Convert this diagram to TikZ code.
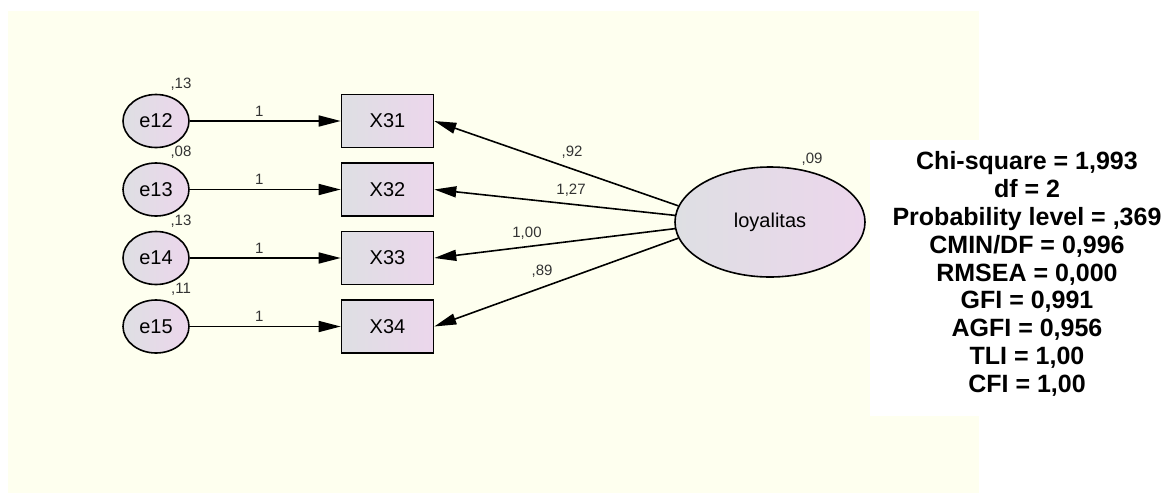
\documentclass[tikz,border=0pt]{standalone}
\usepackage{fontspec}
\setmainfont{Liberation Sans}
\usetikzlibrary{arrows.meta, shapes.geometric}
\definecolor{cream}{RGB}{254,255,239}
\definecolor{lilac}{RGB}{236,214,236}
\definecolor{greyish}{RGB}{222,223,227}
\tikzstyle{err}=[ellipse, draw, line width=1.6pt, inner sep=0pt, minimum width=66pt, minimum height=53pt, left color=greyish, right color=lilac, font=\fontsize{20}{20}\selectfont]
\tikzstyle{obs}=[rectangle, draw, line width=1.6pt, minimum width=92pt, minimum height=53pt, left color=greyish, right color=lilac, font=\fontsize{20}{20}\selectfont]
\tikzstyle{lat}=[ellipse, draw, line width=1.6pt, minimum width=190pt, minimum height=110pt, left color=greyish, right color=lilac, font=\fontsize{20}{20}\selectfont]
\tikzstyle{load}=[-{Triangle[length=22pt, width=11pt]}, line width=1.6pt]
\tikzstyle{est}=[inner sep=1pt, text=black!80, font=\fontsize{15}{15}\selectfont]

\begin{document}
\begin{tikzpicture}[x=1pt, y=-1pt]
  \useasboundingbox (0,0) rectangle (1164,493);
  \fill[cream] (8,11) rectangle (979,493);
  \fill[white] (870,140) rectangle (1164,416);

  % latent factor
  \node[lat] (loy) at (770,222) {loyalitas};
  \node[est] at (812,159) {,09};

  % indicators and their errors
  \foreach \i/\y/\v in {1/121/{,13}, 2/189.5/{,08}, 3/258/{,13}, 4/326.5/{,11}}{
    \node[obs] (x\i) at (387.5,\y) {X3\i};
    \node[err] (e\i) at (156,\y) {e1\the\numexpr\i+1\relax};
    \node[est] at (181,\y-37) {\v};
    \draw[load] (e\i) -- node[est, above=3pt, pos=.46] {1} (x\i);
  }

  % loadings
  \draw[load] (loy.170) -- (x1.east);
  \draw[load] (loy.176) -- (x2.east);
  \draw[load] (loy.184) -- (x3.east);
  \draw[load] (loy.190) -- (x4.east);
  \node[est] at (572,152) {,92};
  \node[est] at (571,190) {1,27};
  \node[est] at (527,233) {1,00};
  \node[est] at (542,271) {,89};

  % fit indices
  \node[align=center, font=\bfseries\fontsize{25}{27.8}\selectfont] (fit) at (1027,274)
    {Chi-square = 1,993\\ df = 2\\ Probability level = ,369\\ CMIN/DF = 0,996\\
     RMSEA = 0,000\\ GFI = 0,991\\ AGFI = 0,956\\ TLI = 1,00\\ CFI = 1,00};
\end{tikzpicture}
\end{document}
